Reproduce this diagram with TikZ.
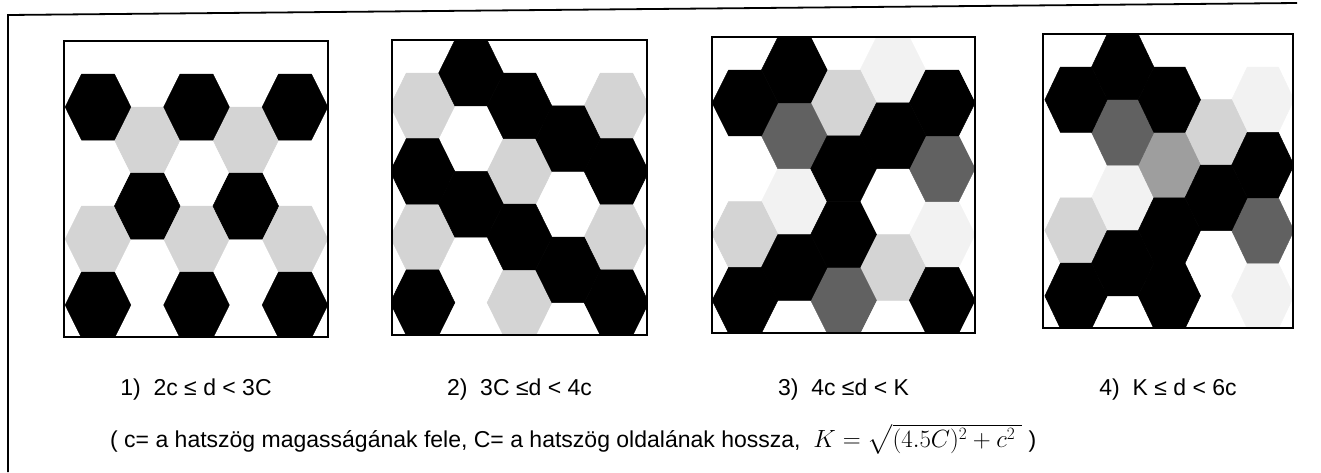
\documentclass[tikz,border=0pt]{standalone}
\usepackage{amsmath}
\usepackage{fontspec}
\setsansfont{Liberation Sans}
\usetikzlibrary{positioning,backgrounds}
\newcommand{\hexcell}[3]{\filldraw[#1] (#2-2/3,#3) -- (#2-1/3,#3-1) -- (#2+1/3,#3-1)
  -- (#2+2/3,#3) -- (#2+1/3,#3+1) -- (#2-1/3,#3+1) -- cycle;}
\tikzset{
  panel/.style={draw,line width=1.8pt,inner sep=0pt},
  hexblk/.style={fill=black,draw=black,line width=0.5pt},
  hexdark/.style={fill=black!62,draw=black!62,line width=0.5pt},
  hexmid/.style={fill=black!38,draw=black!38,line width=0.5pt},
  hexlight/.style={fill=black!17,draw=black!17,line width=0.5pt},
  hexfaint/.style={fill=black!5,draw=black!5,line width=0.5pt},
  lbl/.style={font=\sffamily\fontsize{23}{28}\selectfont,inner sep=0pt},
}

\begin{document}
\begin{tikzpicture}[x=1pt,y=-1pt]
\useasboundingbox (0,0) rectangle (1321,472);
\draw[line width=1.8pt] (8,472) -- (8,15) -- (1297,3);
\coordinate (txtline) at (0,395);
% the four cell patterns
\node[panel,minimum width=264pt,minimum height=296pt] (p1) at (196,189) {};
\node[panel,minimum width=255pt,minimum height=295pt] (p2) at (519.5,187.5) {};
\node[panel,minimum width=263pt,minimum height=296pt] (p3) at (843.5,185) {};
\node[panel,minimum width=250pt,minimum height=294pt] (p4) at (1168,181) {};
\begin{scope}[on background layer]
\begin{scope}
\clip (p1.south west) rectangle (p1.north east);
\begin{scope}[shift={(98,107)},xscale=49.25,yscale=33]
\foreach \i/\k in {1/1,3/1,0/4,2/4,4/4} {\hexcell{hexlight}{\i}{\k}}
\foreach \i/\k in {0/0,2/0,4/0,1/3,3/3,0/6,2/6,4/6} {\hexcell{hexblk}{\i}{\k}}
\end{scope}
\end{scope}
\begin{scope}
\clip (p2.south west) rectangle (p2.north east);
\begin{scope}[shift={(422.5,73)},xscale=48.5,yscale=32.8]
\foreach \i/\k in {0/1,4/1,2/3,0/5,4/5,2/7} {\hexcell{hexlight}{\i}{\k}}
\foreach \i/\k in {1/0,2/1,3/2,4/3,0/3,1/4,2/5,3/6,4/7,0/7} {\hexcell{hexblk}{\i}{\k}}
\end{scope}
\end{scope}
\begin{scope}
\clip (p3.south west) rectangle (p3.north east);
\begin{scope}[shift={(745,70)},xscale=49.3,yscale=32.9]
\foreach \i/\k in {1/4,3/0,4/5} {\hexcell{hexfaint}{\i}{\k}}
\foreach \i/\k in {2/1,0/5,3/6} {\hexcell{hexlight}{\i}{\k}}
\foreach \i/\k in {1/2,4/3,2/7} {\hexcell{hexdark}{\i}{\k}}
\foreach \i/\k in {1/0,0/1,4/1,3/2,2/3,2/5,1/6,0/7,4/7} {\hexcell{hexblk}{\i}{\k}}
\end{scope}
\end{scope}
\begin{scope}
\clip (p4.south west) rectangle (p4.north east);
\begin{scope}[shift={(1076,67)},xscale=46.7,yscale=32.7]
\foreach \i/\k in {4/1,4/7,1/4} {\hexcell{hexfaint}{\i}{\k}}
\foreach \i/\k in {3/2,0/5} {\hexcell{hexlight}{\i}{\k}}
\hexcell{hexmid}{2}{3}
\foreach \i/\k in {1/2,4/5} {\hexcell{hexdark}{\i}{\k}}
\foreach \i/\k in {1/0,0/1,2/1,4/3,3/4,2/5,1/6,2/7,0/7} {\hexcell{hexblk}{\i}{\k}}
\end{scope}
\end{scope}
\end{scope}
% captions
\node[lbl,anchor=base] (lab1) at (p1.south |- txtline) {1)\ \ 2c ≤ d < 3C};
\node[lbl,anchor=base] (lab2) at (p2.south |- txtline) {2)\ \ 3C ≤d < 4c};
\node[lbl,anchor=base] (lab3) at (p3.south |- txtline) {3)\ \ 4c ≤d < K};
\node[lbl,anchor=base] (lab4) at (p4.south |- txtline) {4)\ \ K ≤ d < 6c};
\node[lbl,anchor=base west] (note) at (110,447)
  {( c= a hatszög magasságának fele, C= a hatszög oldalának hossza,\ \ $K = \sqrt{(4.5C)^{2} + c^{2}\;}$\ )};
\end{tikzpicture}
\end{document}
